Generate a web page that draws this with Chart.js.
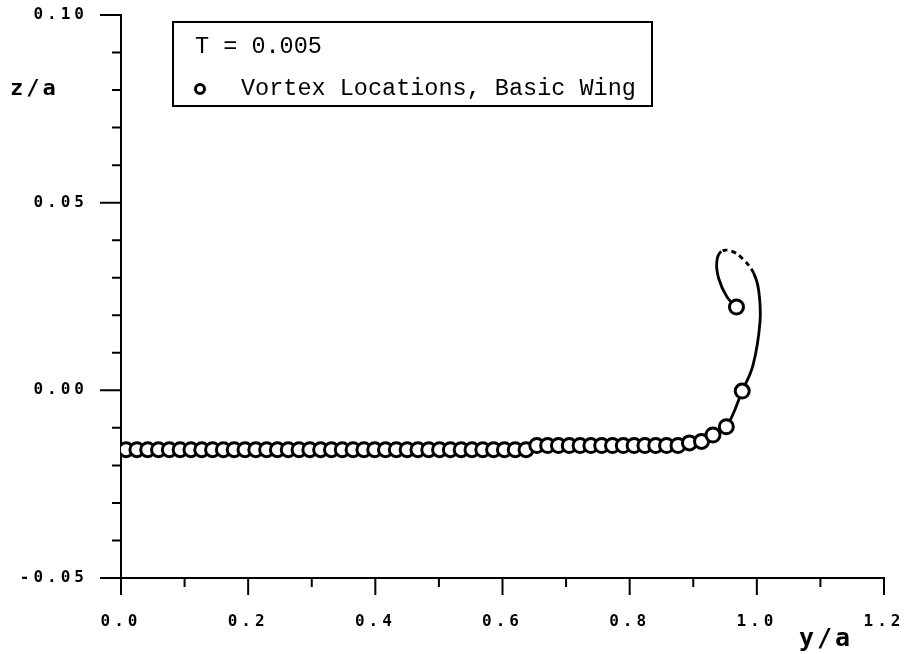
<!DOCTYPE html>
<html>
<head>
<meta charset="utf-8">
<script src="https://cdn.jsdelivr.net/npm/chart.js@4.4.1/dist/chart.umd.min.js"></script>
<style>
  body { margin: 0; background: #fff; }
  #wrap { width: 910px; height: 654px; }
</style>
</head>
<body>
<div id="wrap"><canvas id="chart" width="910" height="654"></canvas></div>
<script>
// vortex locations (y/a, z/a)
const vortexY = [
  0.008, 0.025, 0.042, 0.059, 0.076, 0.093, 0.110, 0.127, 0.144, 0.161,
  0.178, 0.195, 0.212, 0.229, 0.246, 0.263, 0.280, 0.297, 0.314, 0.331,
  0.348, 0.365, 0.382, 0.399, 0.416, 0.433, 0.450, 0.467, 0.484, 0.501,
  0.518, 0.535, 0.552, 0.569, 0.586, 0.603, 0.620, 0.637, 0.654, 0.671,
  0.688, 0.705, 0.722, 0.739, 0.756, 0.773, 0.790, 0.807, 0.824, 0.841,
  0.858, 0.876, 0.894, 0.913, 0.931, 0.952, 0.977, 0.968
];
const vortexZ = [
  -0.0158, -0.0158, -0.0158, -0.0158, -0.0158, -0.0158, -0.0158, -0.0158, -0.0158, -0.0158,
  -0.0158, -0.0158, -0.0158, -0.0158, -0.0158, -0.0158, -0.0158, -0.0158, -0.0158, -0.0158,
  -0.0158, -0.0158, -0.0158, -0.0158, -0.0158, -0.0158, -0.0158, -0.0158, -0.0158, -0.0158,
  -0.0158, -0.0158, -0.0158, -0.0158, -0.0158, -0.0158, -0.0158, -0.0158, -0.0147, -0.0147,
  -0.0147, -0.0147, -0.0147, -0.0147, -0.0147, -0.0147, -0.0147, -0.0147, -0.0147, -0.0147,
  -0.0147, -0.0147, -0.0140, -0.0136, -0.0119, -0.0097, -0.0002, 0.0222
];

// rolled-up sheet curve near the tip
const curveY = [0.841, 0.876, 0.894, 0.913, 0.931, 0.952, 0.977, 0.994, 1.005, 1.003, 0.995, 0.978, 0.960, 0.944, 0.937, 0.940, 0.953, 0.968];
const curveZ = [-0.0147, -0.0147, -0.0140, -0.0136, -0.0119, -0.0097, -0.0002, 0.0067, 0.0183, 0.0265, 0.0312, 0.0350, 0.0371, 0.0370, 0.0342, 0.0298, 0.0249, 0.0222];

const xLabels = ['0.0', '0.2', '0.4', '0.6', '0.8', '1.0', '1.2'];
const yLabels = ['-0.05', '0.00', '0.05', '0.10'];

const vortexPts = vortexY.map((v, i) => ({ x: v, y: vortexZ[i] }));
const curvePts = curveY.map((v, i) => ({ x: v, y: curveZ[i] }));

const tickFont = { family: 'DejaVu Sans Mono', size: 16, weight: 'bold' };

// wide dot-matrix look for the tick labels
const spacingPlugin = {
  id: 'spacing',
  beforeDraw(chart) {
    chart.ctx.letterSpacing = '4px';
  }
};

// major / minor tick marks, legend box and axis names
const decorPlugin = {
  id: 'decor',
  afterDraw(chart) {
    const ctx = chart.ctx;
    const xs = chart.scales.x;
    const ys = chart.scales.y;
    const area = chart.chartArea;
    ctx.save();
    ctx.strokeStyle = '#000';
    ctx.lineWidth = 2;
    ctx.beginPath();
    xs.ticks.forEach((t, i) => {
      const px = xs.getPixelForValue(t.value);
      const len = i % 2 === 0 ? 17 : 9;
      ctx.moveTo(px, area.bottom);
      ctx.lineTo(px, area.bottom + len);
    });
    ys.ticks.forEach((t, i) => {
      const py = ys.getPixelForValue(t.value);
      const len = i % 5 === 0 ? 21 : 9;
      ctx.moveTo(area.left, py);
      ctx.lineTo(area.left - len, py);
    });
    ctx.stroke();

    // legend box
    ctx.lineWidth = 2;
    ctx.strokeRect(173, 22, 479, 84);
    ctx.letterSpacing = '0px';
    ctx.fillStyle = '#000';
    ctx.font = '23.5px "Liberation Mono"';
    ctx.textBaseline = 'alphabetic';
    ctx.textAlign = 'left';
    ctx.fillText('T = 0.005', 195, 53);
    ctx.fillText('Vortex Locations, Basic Wing', 241, 95);
    ctx.lineWidth = 3;
    ctx.beginPath();
    ctx.arc(200, 89, 4.5, 0, Math.PI * 2);
    ctx.stroke();

    // axis names
    ctx.letterSpacing = '3px';
    ctx.font = 'bold 22px "DejaVu Sans Mono"';
    ctx.fillText('z/a', 10, 95);
    ctx.font = 'bold 25px "DejaVu Sans Mono"';
    ctx.fillText('y/a', 799, 646);
    ctx.restore();
  }
};

const chart = new Chart(document.getElementById('chart'), {
  type: 'scatter',
  data: {
    datasets: [
      {
        label: 'Vortex Locations, Basic Wing',
        data: vortexPts,
        pointRadius: 7,
        pointBorderWidth: 3,
        pointBackgroundColor: '#fff',
        pointBorderColor: '#000',
        showLine: false
      },
      {
        label: 'sheet',
        data: curvePts,
        showLine: true,
        pointRadius: 0,
        borderColor: '#000',
        borderWidth: 2.8,
        tension: 0.4,
        segment: {
          borderDash: c => (c.p0DataIndex >= 10 && c.p0DataIndex <= 12) ? [5, 4] : undefined
        }
      }
    ]
  },
  options: {
    responsive: false,
    animation: false,
    layout: { padding: { top: 15, right: 26, left: 0, bottom: 0 } },
    plugins: {
      legend: { display: false },
      tooltip: { enabled: false }
    },
    scales: {
      x: {
        type: 'linear',
        min: 0,
        max: 1.2,
        grid: { display: false },
        border: { display: true, color: '#000', width: 2 },
        ticks: {
          stepSize: 0.1,
          autoSkip: false,
          maxRotation: 0,
          padding: 26,
          color: '#000',
          font: tickFont,
          callback: (v, i) => i % 2 === 0 ? xLabels[i / 2] : ''
        },
        afterFit: s => {
          s.height = 76;
          s.paddingLeft = 0;
          s.paddingRight = 0;
        }
      },
      y: {
        type: 'linear',
        min: -0.05,
        max: 0.10,
        grid: { display: false },
        border: { display: true, color: '#000', width: 2 },
        ticks: {
          stepSize: 0.01,
          autoSkip: false,
          padding: 25,
          color: '#000',
          font: tickFont,
          callback: (v, i) => i % 5 === 0 ? yLabels[i / 5] : ''
        },
        afterFit: s => {
          s.width = 121;
          s.paddingTop = 0;
          s.paddingBottom = 0;
        }
      }
    }
  },
  plugins: [spacingPlugin, decorPlugin]
});
</script>
</body>
</html>
